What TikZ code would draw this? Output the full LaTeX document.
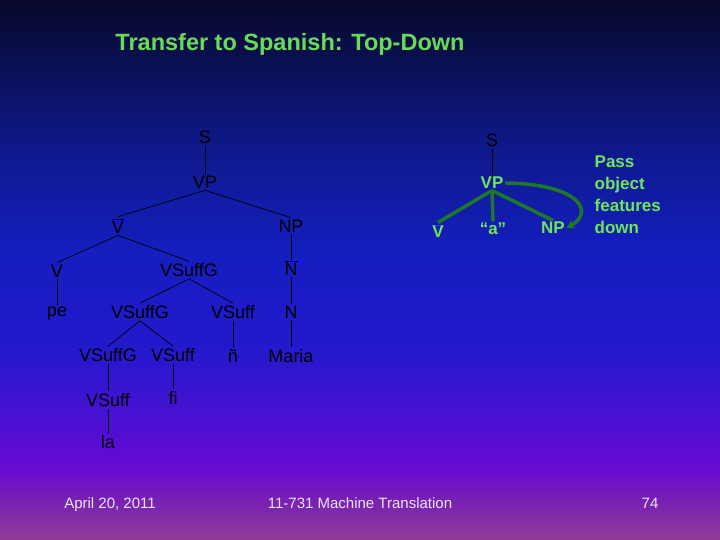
\documentclass[tikz,border=0pt]{standalone}
\usepackage{fontspec}
\setmainfont{Liberation Sans}
\usetikzlibrary{arrows.meta}

\definecolor{bgA}{RGB}{145,60,150}
\definecolor{bgB}{RGB}{125,40,170}
\definecolor{bgC}{RGB}{105,10,210}
\definecolor{bgD}{RGB}{80,15,210}
\definecolor{bgE}{RGB}{35,25,205}
\definecolor{bgF}{RGB}{20,30,190}
\definecolor{bgG}{RGB}{15,25,140}
\definecolor{bgH}{RGB}{10,15,80}
\definecolor{bgI}{RGB}{8,8,40}
\definecolor{titlegreen}{RGB}{102,221,85}
\definecolor{labgreen}{RGB}{110,230,90}
\definecolor{linegreen}{RGB}{30,120,40}
\definecolor{barblue}{RGB}{40,50,225}
\definecolor{footgray}{RGB}{235,230,245}

% 25bp = unterer Rand, 75bp = oberer Rand
\pgfdeclareverticalshading{slidebg}{100bp}{color(0bp)=(bgA); color(25bp)=(bgA); color(27.78bp)=(bgB); color(31.48bp)=(bgC); color(35.19bp)=(bgD); color(42.59bp)=(bgE); color(51.85bp)=(bgF); color(61.11bp)=(bgG); color(69.44bp)=(bgH); color(75bp)=(bgI); color(100bp)=(bgI)}

\newcommand{\barred}[1]{$\overline{\hbox{#1}}$}

\begin{document}
\begin{tikzpicture}[
          x=1pt, y=-1pt,
          lbl/.style = {font=\fontsize{18}{21}\selectfont, inner sep=2pt},
          glbl/.style = {inner sep=1.5pt, font=\fontsize{17}{20}\selectfont\bfseries, text=labgreen},
          branch/.style = {draw=black, line width=0.7pt},
          gbranch/.style = {draw=linegreen, line width=3.5pt},
          foot/.style = {font=\fontsize{15}{17}\selectfont, text=footgray, anchor=base}
         ]

        % Hintergrund
        \useasboundingbox (0,0) rectangle (720,540);
        \shade[shading=slidebg] (0,0) rectangle (720,540);

        % Titel
        \node[font=\fontsize{23.5}{27}\selectfont\bfseries, text=titlegreen] (title) at (290,44) {Transfer to Spanish: Top-Down};

        % Linker Baum
        \node[lbl] (s1) at (205,137) {S};
        \node[lbl] (vp1) at (205,182) {VP};
        \node[lbl] (vbar) at (118,226) {\barred{V}};
        \node[lbl] (np1) at (291,226) {NP};
        \node[lbl] (v1) at (57,271) {V};
        \node[lbl] (vsg1) at (189,270) {VSuffG};
        \node[lbl] (nbar) at (291,268) {\barred{N}};
        \node[lbl] (pe) at (57,314) {pe};
        \node[lbl] (vsg2) at (140,312) {VSuffG};
        \node[lbl] (vs1) at (233,312) {VSuff};
        \node[lbl] (n1) at (291,312) {N};
        \node[lbl] (vsg3) at (108,355) {VSuffG};
        \node[lbl] (vs2) at (173,355) {VSuff};
        \node[lbl] (enye) at (233,356) {ñ};
        \node[lbl] (maria) at (291,356) {Maria};
        \node[lbl] (vs3) at (108,400) {VSuff};
        \node[lbl] (fi) at (173,398) {fi};
        \node[lbl] (la) at (108,442) {la};

        \draw[branch] (s1.south) -- (vp1.north);
        \draw[branch] (vp1.south) -- (vbar.north);
        \draw[branch] (vp1.south) -- (np1.north);
        \draw[branch] (vbar.south) -- (v1.north);
        \draw[branch] (vbar.south) -- (vsg1.north);
        \draw[branch] (np1.south) -- (nbar.north);
        \draw[branch] (v1.south) -- (pe.north);
        \draw[branch] (vsg1.south) -- (vsg2.north);
        \draw[branch] (vsg1.south) -- (vs1.north);
        \draw[branch] (nbar.south) -- (n1.north);
        \draw[branch] (vsg2.south) -- (vsg3.north);
        \draw[branch] (vsg2.south) -- (vs2.north);
        \draw[branch] (vs1.south) -- (enye.north);
        \draw[branch] (n1.south) -- (maria.north);
        \draw[branch] (vsg3.south) -- (vs3.north);
        \draw[branch] (vs2.south) -- (fi.north);
        \draw[branch] (vs3.south) -- (la.north);

        % Rechter Baum (Spanisch)
        \node[lbl] (s2) at (492,140) {S};
        \node[glbl] (vp2) at (492,183) {VP};
        \node[glbl] (v2) at (438,231) {\textcolor{barblue}{\barred{\textcolor{labgreen}{V}}}};
        \node[glbl] (quote) at (493,229) {``a''};
        \node[glbl] (np2) at (553,228) {NP};

        \draw[branch] (s2.south) -- (vp2.north);
        \draw[gbranch] (vp2.south) -- (v2.north);
        \draw[gbranch] (vp2.south) -- (quote.north);
        \draw[gbranch] (vp2.south) -- (np2.north);
        \draw[gbranch, -{Stealth[length=8pt, width=9pt]}] (vp2.east) .. controls (580,184) and (595,212) .. (np2.east);

        % Hinweis
        \node[glbl, align=left, anchor=west, font=\fontsize{17}{22}\selectfont\bfseries] (note) at (593,195) {Pass\\object\\features\\down};

        % Fusszeile
        \node[foot] (date) at (110,508) {April 20, 2011};
        \node[foot] (course) at (360,508) {11-731 Machine Translation};
        \node[foot] (page) at (650,508) {74};

        \end{tikzpicture}
\end{document}
